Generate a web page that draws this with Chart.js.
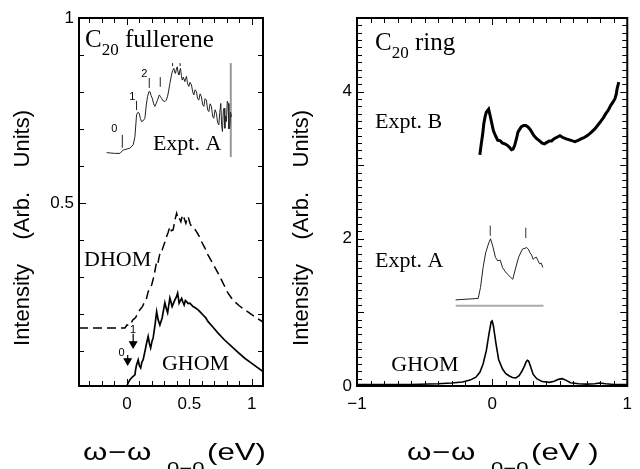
<!DOCTYPE html>
<html lang="en">
<head>
<meta charset="utf-8">
<title>C20 spectra</title>
<style>
  * { margin: 0; padding: 0; }
  body { width: 640px; height: 469px; background: #fff; position: relative; overflow: hidden; }
  #fullChart { position: absolute; left: 0; top: 0; }
  #ringChart { position: absolute; left: 280px; top: 0; }
</style>
</head>
<body>
<canvas id="fullChart" width="320" height="469"></canvas>
<canvas id="ringChart" width="360" height="469"></canvas>
<script src="https://cdn.jsdelivr.net/npm/chart.js/dist/chart.umd.min.js"></script>
<script>
// ---- C20 fullerene panel ----
const fullExptAX = [-0.163, -0.10, -0.056, -0.03, 0.024, 0.05, 0.064, 0.077, 0.088, 0.099, 0.108, 0.117, 0.13, 0.144, 0.155, 0.165, 0.175, 0.184, 0.194, 0.203, 0.214, 0.224, 0.235, 0.245, 0.259, 0.268, 0.277, 0.29, 0.304, 0.315, 0.325, 0.335, 0.344, 0.357, 0.366, 0.376, 0.383, 0.389, 0.396, 0.403, 0.41, 0.416, 0.423, 0.429, 0.436, 0.443, 0.452, 0.464, 0.47, 0.477, 0.486, 0.496, 0.505, 0.517, 0.527, 0.536, 0.546, 0.557, 0.566, 0.576, 0.586, 0.597, 0.606, 0.616, 0.626, 0.637, 0.646, 0.656, 0.666, 0.677, 0.686, 0.696, 0.706, 0.717, 0.726, 0.736, 0.744, 0.752, 0.758, 0.765, 0.772, 0.778, 0.784, 0.79, 0.797, 0.804, 0.811, 0.817, 0.824, 0.83, 0.837];
const fullExptAY = [0.636, 0.634, 0.634, 0.643, 0.648, 0.657, 0.679, 0.738, 0.745, 0.742, 0.728, 0.72, 0.722, 0.729, 0.765, 0.787, 0.80, 0.801, 0.79, 0.783, 0.768, 0.761, 0.77, 0.778, 0.792, 0.788, 0.783, 0.776, 0.774, 0.778, 0.787, 0.805, 0.823, 0.846, 0.858, 0.864, 0.852, 0.85, 0.862, 0.868, 0.852, 0.846, 0.858, 0.864, 0.845, 0.832, 0.84, 0.828, 0.836, 0.842, 0.822, 0.815, 0.826, 0.819, 0.80, 0.792, 0.806, 0.801, 0.782, 0.778, 0.795, 0.787, 0.766, 0.761, 0.782, 0.778, 0.752, 0.747, 0.768, 0.761, 0.735, 0.729, 0.752, 0.742, 0.718, 0.711, 0.745, 0.769, 0.712, 0.693, 0.748, 0.756, 0.702, 0.735, 0.72, 0.775, 0.769, 0.70, 0.707, 0.745, 0.733];
const fullDhomX = [-0.384, -0.016, 0.0, 0.02, 0.048, 0.07, 0.09, 0.104, 0.125, 0.14, 0.158, 0.17, 0.185, 0.198, 0.215, 0.238, 0.248, 0.256, 0.27, 0.282, 0.3, 0.318, 0.33, 0.344, 0.356, 0.37, 0.385, 0.398, 0.408, 0.416, 0.424, 0.432, 0.44, 0.45, 0.462, 0.472, 0.48, 0.49, 0.505, 0.518, 0.538, 0.558, 0.578, 0.598, 0.625, 0.65, 0.69, 0.73, 0.77, 0.81, 0.85, 0.9, 0.944, 1.0, 1.09];
const fullDhomY = [0.162, 0.162, 0.170, 0.168, 0.184, 0.19, 0.205, 0.211, 0.22, 0.232, 0.243, 0.26, 0.27, 0.278, 0.30, 0.341, 0.336, 0.351, 0.372, 0.373, 0.39, 0.409, 0.42, 0.436, 0.425, 0.427, 0.455, 0.472, 0.46, 0.463, 0.455, 0.449, 0.46, 0.468, 0.455, 0.445, 0.455, 0.463, 0.445, 0.436, 0.432, 0.422, 0.41, 0.395, 0.378, 0.359, 0.335, 0.31, 0.283, 0.256, 0.237, 0.222, 0.211, 0.198, 0.178];
const fullGhomX = [0.0, 0.012, 0.024, 0.045, 0.064, 0.07, 0.077, 0.09, 0.1, 0.11, 0.12, 0.13, 0.145, 0.158, 0.17, 0.18, 0.19, 0.2, 0.21, 0.225, 0.238, 0.25, 0.264, 0.282, 0.293, 0.304, 0.315, 0.326, 0.344, 0.353, 0.362, 0.384, 0.395, 0.406, 0.418, 0.428, 0.438, 0.448, 0.458, 0.468, 0.478, 0.49, 0.504, 0.53, 0.55, 0.57, 0.59, 0.61, 0.63, 0.65, 0.69, 0.73, 0.78, 0.838, 0.89, 0.944, 1.0, 1.09];
const fullGhomY = [0.005, 0.015, 0.022, 0.03, 0.035, 0.05, 0.062, 0.076, 0.06, 0.054, 0.07, 0.076, 0.1, 0.122, 0.139, 0.12, 0.108, 0.125, 0.135, 0.17, 0.206, 0.184, 0.17, 0.189, 0.21, 0.23, 0.215, 0.203, 0.243, 0.232, 0.22, 0.238, 0.245, 0.256, 0.229, 0.236, 0.242, 0.232, 0.224, 0.236, 0.233, 0.228, 0.229, 0.22, 0.216, 0.211, 0.204, 0.197, 0.19, 0.179, 0.164, 0.148, 0.13, 0.112, 0.096, 0.08, 0.066, 0.044];
const fullExptAEdgeX = [0.832, 0.832];
const fullExptAEdgeY = [0.624, 0.878];
const fullMarkX = [-0.037, -0.037, null, 0.077, 0.077, null, 0.179, 0.179, null, 0.267, 0.267, null, 0.365, 0.365, null, 0.426, 0.426];
const fullMarkY = [0.649, 0.684, null, 0.751, 0.776, null, 0.811, 0.838, null, 0.814, 0.84, null, 0.870, 0.878, null, 0.870, 0.878];
const fullArrow1X = [0.05, 0.05];
const fullArrow1Y = [0.146, 0.119];
const fullArrow0X = [0.006, 0.006];
const fullArrow0Y = [0.089, 0.073];
const fullXLabels = [0, 0.5, 1];
const fullYLabels = [0.5, 1];

// ---- C20 ring panel ----
const ringExptBX = [-0.091, -0.079, -0.07, -0.062, -0.052, -0.043, -0.026, -0.012, 0.009, 0.025, 0.041, 0.06, 0.077, 0.095, 0.113, 0.13, 0.143, 0.155, 0.167, 0.18, 0.191, 0.215, 0.232, 0.249, 0.265, 0.28, 0.31, 0.33, 0.351, 0.37, 0.387, 0.405, 0.423, 0.44, 0.459, 0.48, 0.502, 0.52, 0.543, 0.56, 0.578, 0.595, 0.614, 0.64, 0.662, 0.685, 0.71, 0.735, 0.758, 0.78, 0.805, 0.825, 0.841, 0.86, 0.877, 0.895, 0.908, 0.918, 0.925, 0.937];
const ringExptBY = [3.14, 3.31, 3.42, 3.56, 3.66, 3.72, 3.76, 3.65, 3.47, 3.4, 3.34, 3.33, 3.30, 3.29, 3.27, 3.24, 3.21, 3.22, 3.27, 3.36, 3.45, 3.52, 3.54, 3.54, 3.52, 3.49, 3.40, 3.36, 3.33, 3.30, 3.29, 3.31, 3.33, 3.33, 3.36, 3.38, 3.40, 3.38, 3.36, 3.35, 3.34, 3.33, 3.32, 3.34, 3.36, 3.38, 3.41, 3.45, 3.49, 3.54, 3.60, 3.65, 3.70, 3.75, 3.81, 3.86, 3.90, 3.96, 4.04, 4.13];
const ringExptAX = [-0.27, -0.186, -0.103, -0.086, -0.067, -0.048, -0.024, -0.012, 0.005, 0.024, 0.041, 0.06, 0.077, 0.095, 0.113, 0.135, 0.153, 0.172, 0.196, 0.224, 0.256, 0.268, 0.28, 0.292, 0.303, 0.315, 0.327, 0.34, 0.351, 0.363, 0.375];
const ringExptAY = [1.17, 1.18, 1.19, 1.34, 1.61, 1.81, 1.95, 2.0, 1.90, 1.75, 1.70, 1.71, 1.61, 1.56, 1.52, 1.48, 1.45, 1.59, 1.75, 1.86, 1.88, 1.86, 1.81, 1.78, 1.72, 1.74, 1.75, 1.70, 1.66, 1.67, 1.61];
const ringBaseX = [-0.27, 0.38];
const ringBaseY = [1.09, 1.09];
const ringMarkX = [-0.014, -0.014, null, 0.249, 0.249];
const ringMarkY = [2.04, 2.18, null, 2.01, 2.15];
const ringGhomX = [-1.0, -0.8, -0.6, -0.4, -0.3, -0.22, -0.163, -0.12, -0.09, -0.067, -0.043, -0.024, -0.007, 0.0, 0.009, 0.029, 0.048, 0.077, 0.1, 0.124, 0.15, 0.175, 0.2, 0.22, 0.239, 0.252, 0.261, 0.27, 0.285, 0.303, 0.33, 0.37, 0.423, 0.46, 0.49, 0.518, 0.545, 0.58, 0.64, 0.698, 0.76, 0.794, 0.841, 0.9, 1.0];
const ringGhomY = [0.02, 0.02, 0.02, 0.03, 0.04, 0.055, 0.08, 0.12, 0.19, 0.30, 0.48, 0.70, 0.875, 0.885, 0.82, 0.57, 0.36, 0.23, 0.17, 0.14, 0.115, 0.11, 0.14, 0.2, 0.27, 0.33, 0.35, 0.34, 0.26, 0.16, 0.1, 0.06, 0.05, 0.065, 0.09, 0.10, 0.08, 0.045, 0.03, 0.025, 0.03, 0.04, 0.03, 0.02, 0.02];
const ringXLabels = [-1, 0, 1];
const ringYLabels = [0, 2, 4];

const pts = (xs, ys) => xs.map((x, i) => ({ x: x, y: ys[i] }));
const has = (list, v) => list.some(l => Math.abs(l - v) < 1e-9);
const tenths = (from, to) => {
  const out = [];
  for (let i = from; i <= to; i++) out.push({ value: i / 10 });
  return out;
};
const SANS = '"Liberation Sans", Arial, sans-serif';
const SERIF = '"Liberation Serif", "Times New Roman", serif';

Chart.defaults.font.family = SANS;
Chart.defaults.color = '#000';

function line(data, color, width, extra) {
  return Object.assign({
    data: data, showLine: true, borderColor: color, backgroundColor: color,
    borderWidth: width, pointRadius: 0, tension: 0, fill: false, spanGaps: false
  }, extra || {});
}

const decor = {
  id: 'decor',
  afterDatasetsDraw(chart, args, o) {
    const ctx = chart.ctx, a = chart.chartArea, sx = chart.scales.x, sy = chart.scales.y;
    ctx.save();
    ctx.strokeStyle = '#000';
    ctx.lineWidth = 1;
    ctx.beginPath();
    sx.ticks.forEach(t => {
      const p = Math.round(sx.getPixelForValue(t.value)) + 0.5;
      const len = has(o.majorX, t.value) ? 7 : 5;
      ctx.moveTo(p, a.bottom); ctx.lineTo(p, a.bottom - len);
      ctx.moveTo(p, a.top); ctx.lineTo(p, a.top + len);
    });
    sy.ticks.forEach(t => {
      const p = Math.round(sy.getPixelForValue(t.value)) + 0.5;
      const len = has(o.majorY, t.value) ? 7 : 5;
      ctx.moveTo(a.left, p); ctx.lineTo(a.left + len, p);
      ctx.moveTo(a.right, p); ctx.lineTo(a.right - len, p);
    });
    ctx.stroke();
    ctx.lineWidth = 2;
    ctx.strokeRect(a.left, a.top, a.right - a.left, a.bottom - a.top);

    // panel notes
    ctx.fillStyle = '#000';
    ctx.textAlign = 'left';
    ctx.textBaseline = 'alphabetic';
    o.notes.forEach(n => {
      let x = sx.getPixelForValue(n.x);
      const y = sy.getPixelForValue(n.y);
      ctx.font = n.size + 'px ' + SERIF;
      ctx.fillText(n.text, x, y);
      if (n.sub) {
        x += ctx.measureText(n.text).width;
        ctx.font = '17px ' + SERIF;
        ctx.fillText(n.sub, x, y + 8);
        x += ctx.measureText(n.sub).width;
        ctx.font = n.size + 'px ' + SERIF;
        ctx.fillText(n.rest, x, y);
      }
    });
    ctx.font = '11px ' + SANS;
    ctx.textAlign = 'center';
    ctx.textBaseline = 'middle';
    (o.small || []).forEach(n => {
      ctx.fillText(n.text, sx.getPixelForValue(n.x), sy.getPixelForValue(n.y));
    });

    // y axis title
    ctx.save();
    ctx.translate(o.yTitleX, 228);
    ctx.rotate(-Math.PI / 2);
    ctx.font = '22px ' + SANS;
    ctx.fillText('Intensity    (Arb.    Units)', 0, 0);
    ctx.restore();

    // x axis title
    ctx.textAlign = 'left';
    ctx.textBaseline = 'alphabetic';
    const parts = [
      { t: '\u03c9', dx: 0 }, { t: '\u2212', dx: 25 }, { t: '\u03c9', dx: 44 },
      { t: '0\u22120', dx: 84, sub: true }, { t: o.unit, dx: 124 }
    ];
    parts.forEach(p => {
      ctx.save();
      ctx.translate(o.xTitleX + p.dx, p.sub ? 474 : 460);
      ctx.scale(1.3, 1);
      ctx.font = (p.sub ? 17 : 24) + 'px ' + SANS;
      ctx.fillText(p.t, 0, 0);
      ctx.restore();
    });
    ctx.restore();
  }
};

function axes(xMin, xMax, xTicks, xLabels, yMin, yMax, yTicks, yLabels, yWidth) {
  const fmt = v => String(v).replace('-', '\u2212');
  return {
    x: {
      type: 'linear', min: xMin, max: xMax,
      afterBuildTicks: s => { s.ticks = xTicks; },
      afterFit: s => { s.height = 83; },
      grid: { display: false, drawTicks: false },
      border: { display: false },
      ticks: {
        autoSkip: false, maxRotation: 0, padding: 8, font: { size: 17 },
        callback: v => has(xLabels, v) ? fmt(v) : ''
      }
    },
    y: {
      type: 'linear', min: yMin, max: yMax,
      afterBuildTicks: s => { s.ticks = yTicks; },
      afterFit: s => { s.width = yWidth; },
      grid: { display: false, drawTicks: false },
      border: { display: false },
      ticks: {
        autoSkip: false, padding: 5, font: { size: 17 },
        callback: v => has(yLabels, v) ? fmt(v) : ''
      }
    }
  };
}

const common = {
  responsive: false,
  animation: false,
  events: [],
  plugins: { legend: { display: false }, tooltip: { enabled: false } }
};

new Chart(document.getElementById('fullChart'), {
  type: 'scatter',
  data: {
    datasets: [
      line(pts(fullExptAX, fullExptAY), '#222', 1),
      line(pts(fullExptAEdgeX, fullExptAEdgeY), '#999', 2),
      line(pts(fullMarkX, fullMarkY), '#222', 1),
      line(pts(fullDhomX, fullDhomY), '#000', 1.5, { borderDash: [9, 5] }),
      line(pts(fullGhomX, fullGhomY), '#000', 1.7),
      line(pts(fullArrow1X, fullArrow1Y), '#000', 1.2, { pointRadius: [0, 4], pointStyle: 'triangle', rotation: 180 }),
      line(pts(fullArrow0X, fullArrow0Y), '#000', 1.2, { pointRadius: [0, 4], pointStyle: 'triangle', rotation: 180 })
    ]
  },
  options: Object.assign({}, common, {
    layout: { padding: { left: 0, top: 18, right: 57, bottom: 0 } },
    scales: axes(-0.384, 1.09, tenths(-3, 10), fullXLabels, 0.005, 1, tenths(1, 10), fullYLabels, 79),
    plugins: Object.assign({}, common.plugins, {
      decor: {
        majorX: fullXLabels, majorY: fullYLabels, yTitleX: 23, xTitleX: 83, unit: '(eV)',
        notes: [
          { text: 'C', sub: '20', rest: ' fullerene', x: -0.336, y: 0.922, size: 25 },
          { text: 'Expt. A', x: 0.208, y: 0.643, size: 22 },
          { text: 'DHOM', x: -0.344, y: 0.33, size: 22 },
          { text: 'GHOM', x: 0.28, y: 0.049, size: 22 }
        ],
        small: [
          { text: '0', x: -0.101, y: 0.699 },
          { text: '1', x: 0.043, y: 0.787 },
          { text: '2', x: 0.139, y: 0.849 },
          { text: '1', x: 0.05, y: 0.157 },
          { text: '0', x: -0.043, y: 0.095 }
        ]
      }
    })
  }),
  plugins: [decor]
});

new Chart(document.getElementById('ringChart'), {
  type: 'scatter',
  data: {
    datasets: [
      line(pts(ringExptBX, ringExptBY), '#000', 3),
      line(pts(ringBaseX, ringBaseY), '#aaa', 2),
      line(pts(ringExptAX, ringExptAY), '#222', 1),
      line(pts(ringMarkX, ringMarkY), '#333', 1),
      line(pts(ringGhomX, ringGhomY), '#000', 1.6)
    ]
  },
  options: Object.assign({}, common, {
    layout: { padding: { left: 0, top: 18, right: 4, bottom: 0 } },
    scales: axes(-1, 1, tenths(-10, 10), ringXLabels, 0, 5, tenths(0, 50), ringYLabels, 77),
    plugins: Object.assign({}, common.plugins, {
      decor: {
        majorX: ringXLabels, majorY: [0, 1, 2, 3, 4, 5], yTitleX: 22, xTitleX: 127, unit: '(eV )',
        notes: [
          { text: 'C', sub: '20', rest: ' ring', x: -0.867, y: 4.56, size: 25 },
          { text: 'Expt. B', x: -0.867, y: 3.51, size: 22 },
          { text: 'Expt. A', x: -0.867, y: 1.62, size: 22 },
          { text: 'GHOM', x: -0.746, y: 0.204, size: 22 }
        ]
      }
    })
  }),
  plugins: [decor]
});
</script>
</body>
</html>
